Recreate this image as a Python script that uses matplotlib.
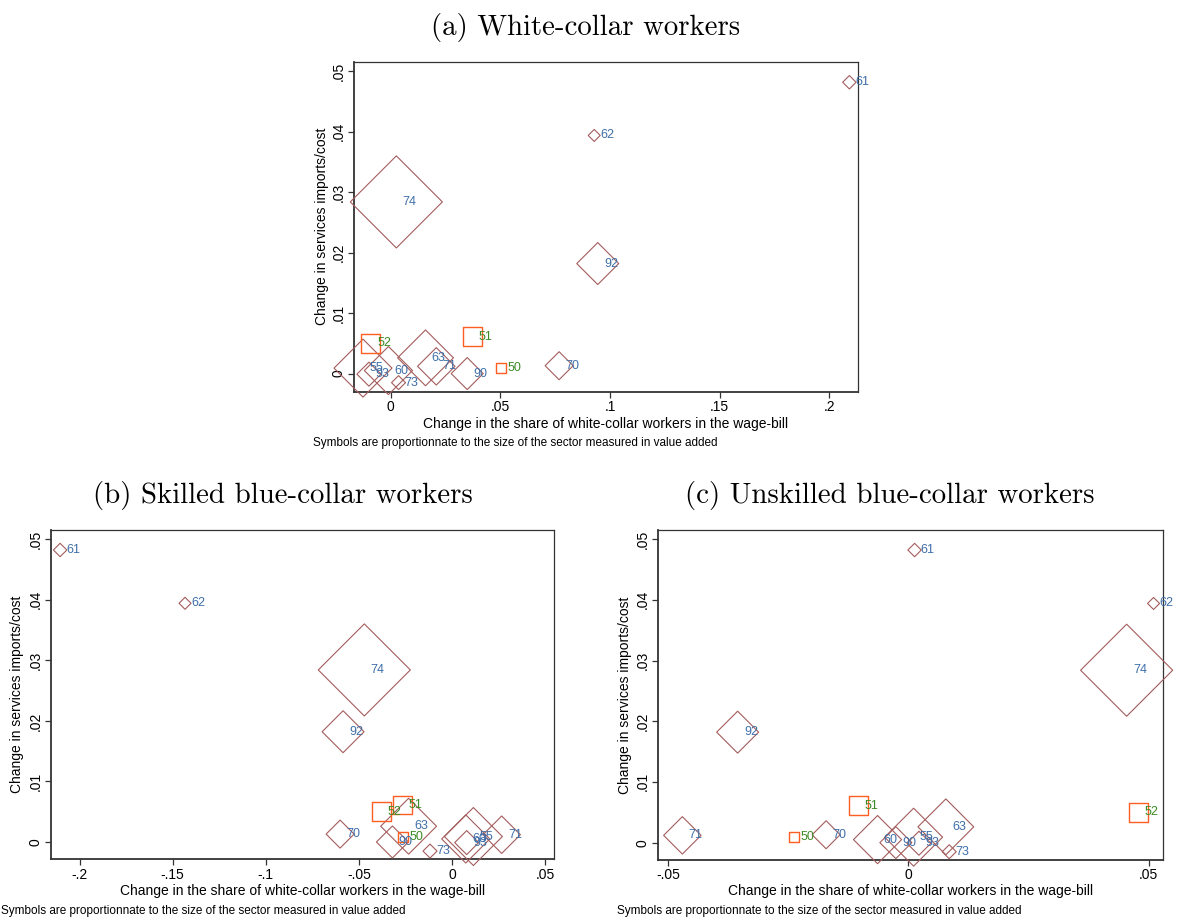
import numpy as np
import matplotlib
matplotlib.use("Agg")
import matplotlib.pyplot as plt
from matplotlib.ticker import FixedLocator, FuncFormatter

# ---------------------------------------------------------------- data
sectors = ["50", "51", "52", "55", "60", "61", "62", "63",
           "70", "71", "73", "74", "90", "92", "93"]
trade_sectors = ["50", "51", "52"]

# change in services imports / cost
d_services = [0.0009, 0.0061, 0.0050, 0.0009, 0.0005, 0.0482, 0.0394, 0.0026,
              0.0013, 0.0012, -0.0015, 0.0284, 0.0000, 0.0182, -0.0001]

# change in the wage-bill share of each group of workers
d_white = [0.0504, 0.0374, -0.0090, -0.0126, -0.0010, 0.2091, 0.0928, 0.0159,
           0.0768, 0.0208, 0.0036, 0.0026, 0.0349, 0.0944, -0.0099]
d_skilled = [-0.0262, -0.0267, -0.0381, 0.0115, 0.0074, -0.2105, -0.1434, -0.0233,
             -0.0601, 0.0267, -0.0118, -0.0471, -0.0320, -0.0585, 0.0079]
d_unskilled = [-0.0238, -0.0104, 0.0478, 0.0011, -0.0064, 0.0013, 0.0510, 0.0078,
               -0.0171, -0.0470, 0.0085, 0.0454, -0.0026, -0.0355, 0.0022]

# sector size (value added, arbitrary units)
value_added = [5.0, 17.4, 18.0, 84.0, 58.0, 4.5, 3.6, 78.0,
               19.6, 35.0, 4.9, 212.0, 25.6, 44.0, 14.4]

y_ticks = [0, 0.01, 0.02, 0.03, 0.04, 0.05]
x_ticks_a = [0, 0.05, 0.1, 0.15, 0.2]
x_ticks_b = [-0.2, -0.15, -0.1, -0.05, 0, 0.05]
x_ticks_c = [-0.05, 0, 0.05]

titles = ["(a) White-collar workers",
          "(b) Skilled blue-collar workers",
          "(c) Unskilled blue-collar workers"]
x_title = "Change in the share of white-collar workers in the wage-bill"
y_title = "Change in services imports/cost"
note = "Symbols are proportionnate to the size of the sector measured in value added"

# ---------------------------------------------------------------- style
W, H = 1188, 922
DPI = 100
PX_PER_PT = DPI / 72.0
SANS = ["Liberation Sans", "DejaVu Sans"]
SERIF = ["cmr10", "DejaVu Serif"]
plt.rcParams["font.family"] = SANS
plt.rcParams["axes.formatter.use_mathtext"] = True

DIAMOND_EDGE = "#a45c5c"
SQUARE_EDGE = "#ff5e22"
DIAMOND_TEXT = "#3f6fa8"
SQUARE_TEXT = "#3b8a24"


def stata_num(v, _pos=None):
    if abs(v) < 1e-12:
        return "0"
    s = ("%.2f" % v).rstrip("0").rstrip(".")
    return s.replace("0.", ".")


def diamond_area(va):
    half_px = np.sqrt(10.0 * np.asarray(va))          # half diagonal in px
    ms = half_px / (0.70711 * PX_PER_PT)
    return ms ** 2


def square_area(va):
    side_px = np.sqrt(2.0) * np.sqrt(10.0 * np.asarray(va))
    ms = side_px / PX_PER_PT
    return ms ** 2


def box(left, top, right, bottom):
    return [left / W, 1 - bottom / H, (right - left) / W, (bottom - top) / H]


fig = plt.figure(figsize=(W / DPI, H / DPI), dpi=DPI)

panels = [
    dict(x=d_white, px=(354, 61.7, 857.7, 391.7), xlim=(-0.0167, 0.2129),
         ylim=(-0.0030, 0.0516), xticks=x_ticks_a,
         title_xy=(586, 27), ylab_x=322, note_xy=(313, 443), xlab_y=424),
    dict(x=d_skilled, px=(51, 530, 554, 859.3), xlim=(-0.2154, 0.0548),
         ylim=(-0.00286, 0.0515), xticks=x_ticks_b,
         title_xy=(283, 495), ylab_x=17, note_xy=(1, 911), xlab_y=891),
    dict(x=d_unskilled, px=(658.3, 530, 1162.7, 860), xlim=(-0.0520, 0.0529),
         ylim=(-0.00286, 0.0515), xticks=x_ticks_c,
         title_xy=(890, 495), ylab_x=625, note_xy=(617, 911), xlab_y=891),
]

sq = np.array([s in trade_sectors for s in sectors])
va = np.array(value_added)
yv = np.array(d_services)


def ftext(x, y, s, **kw):
    fig.text(x / W, 1 - y / H, s, **kw)


for p, title in zip(panels, titles):
    ax = fig.add_axes(box(*p["px"]))
    xv = np.array(p["x"])
    ax.scatter(xv[~sq], yv[~sq], s=diamond_area(va[~sq]), marker="D",
               facecolors="none", edgecolors=DIAMOND_EDGE, linewidths=0.8,
               clip_on=False, zorder=3)
    ax.scatter(xv[sq], yv[sq], s=square_area(va[sq]), marker="s",
               facecolors="none", edgecolors=SQUARE_EDGE, linewidths=1.0,
               clip_on=False, zorder=3)
    for lab, x, y, is_sq in zip(sectors, xv, yv, sq):
        ax.annotate(lab, (x, y), xytext=(4.5, 0), textcoords="offset points",
                    ha="left", va="center", fontsize=9,
                    color=SQUARE_TEXT if is_sq else DIAMOND_TEXT,
                    annotation_clip=False, zorder=4)
    ax.set_xlim(*p["xlim"])
    ax.set_ylim(*p["ylim"])
    ax.xaxis.set_major_locator(FixedLocator(p["xticks"]))
    ax.yaxis.set_major_locator(FixedLocator(y_ticks))
    ax.xaxis.set_major_formatter(FuncFormatter(stata_num))
    ax.yaxis.set_major_formatter(FuncFormatter(stata_num))
    ax.tick_params(axis="both", direction="out", length=4, width=0.9,
                   labelsize=10, color="#333333", pad=2)
    for lbl in ax.get_yticklabels():
        lbl.set_rotation(90)
        lbl.set_va("center")
    for side in ("left", "bottom"):
        ax.spines[side].set_linewidth(1.3)
        ax.spines[side].set_color("#333333")
    for side in ("top", "right"):
        ax.spines[side].set_linewidth(0.9)
        ax.spines[side].set_color("#333333")

    left, top, right, bottom = p["px"]
    ftext(*p["title_xy"], title, ha="center", va="center", fontsize=20.8,
          family=SERIF)
    ftext((left + right) / 2, p["xlab_y"], x_title, ha="center", va="center",
          fontsize=10)
    ftext(p["ylab_x"], (top + bottom) / 2, y_title, ha="center", va="center",
          fontsize=10, rotation=90)
    ftext(*p["note_xy"], note, ha="left", va="center", fontsize=8.5)

fig.savefig("out.png", dpi=DPI)
